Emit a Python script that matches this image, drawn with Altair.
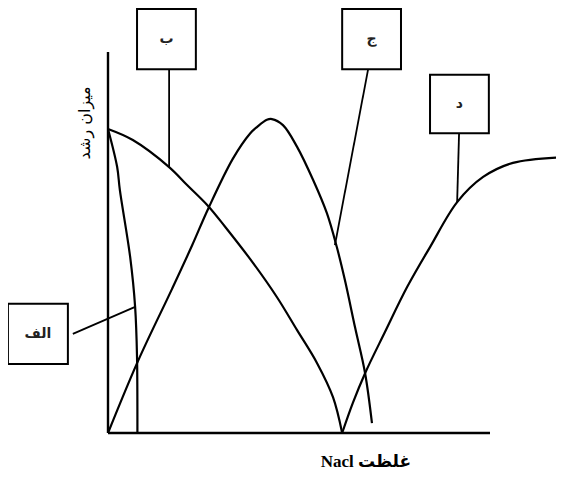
import altair as alt
import pandas as pd

# Curves (x: NaCl concentration, y: growth), arbitrary units
alef_x = [0, 2.4, 3.1, 5.8, 7.1, 7.6, 7.7]
alef_y = [79.8, 69.8, 63.8, 46.2, 33.1, 19.9, 0]

be_x = [0, 6.5, 16.0, 20.7, 26.2, 30.6, 38.0, 44.2, 49.5, 54.7, 58.9, 61.3]
be_y = [79.8, 76.9, 69.8, 65.1, 59.6, 54.2, 44.6, 35.7, 27.0, 18.4, 9.4, 0]

jim_x = [0, 7.9, 16.8, 22.0, 26.2, 32.7, 37.2, 39.0, 41.6, 42.9, 45.8, 49.5, 53.7, 57.3, 59.9, 62.0, 64.7, 67.3, 69.1]
jim_y = [0, 19.0, 37.9, 49.2, 58.8, 72.0, 78.6, 80.3, 82.2, 82.4, 80.8, 75.1, 66.4, 57.7, 48.8, 40.2, 27.6, 15.7, 2.6]

dal_x = [61.3, 64.1, 67.3, 72.5, 78.3, 84.3, 91.4, 98.2, 106.0, 119.4]
dal_y = [0, 7.9, 15.7, 26.5, 38.3, 48.8, 60.6, 67.2, 70.9, 72.4]

# Label boxes (data units): name, box corners, leader from -> to
box_names = ["الف", "ب", "ج", "د"]
box_x1 = [-26.2, 7.6, 61.3, 84.3]
box_x2 = [-10.5, 23.0, 76.7, 99.7]
box_y1 = [18.1, 95.5, 95.5, 78.7]
box_y2 = [33.9, 111.3, 111.3, 94.0]
lead_x1 = [-9.2, 16.0, 68.1, 91.9]
lead_y1 = [26.0, 95.5, 95.5, 78.7]
lead_x2 = [7.1, 16.0, 59.4, 91.4]
lead_y2 = [33.1, 69.8, 49.3, 60.6]

x_title = "Nacl غلظت"
y_title = "میزان رشد"

rows = []
for name, xs_, ys_ in [("الف", alef_x, alef_y), ("ب", be_x, be_y), ("ج", jim_x, jim_y), ("د", dal_x, dal_y)]:
    for i, (a, b) in enumerate(zip(xs_, ys_)):
        rows.append({"series": name, "x": a, "y": b, "i": i})
curves = pd.DataFrame(rows)

boxes = pd.DataFrame({
    "name": box_names, "x1": box_x1, "x2": box_x2, "y1": box_y1, "y2": box_y2,
    "lx1": lead_x1, "ly1": lead_y1, "lx2": lead_x2, "ly2": lead_y2,
})
boxes["cx"] = (boxes.x1 + boxes.x2) / 2
boxes["cy"] = (boxes.y1 + boxes.y2) / 2

axes_df = pd.DataFrame({"x": [0, 0], "y": [0, 0], "x2": [100, 0], "y2": [0, 100]})
titles_df = pd.DataFrame({"t": [x_title, y_title], "x": [67.5, -6.0], "y": [-7.6, 81.4]})

xs = alt.Scale(domain=[0, 100], range=[100, 482], nice=False, zero=False)
ys = alt.Scale(domain=[0, 100], range=[425, 44], nice=False, zero=False)
X = lambda f: alt.X(f, type="quantitative", scale=xs, axis=None)
Y = lambda f: alt.Y(f, type="quantitative", scale=ys, axis=None)

lines = alt.Chart(curves).mark_line(color="black", strokeWidth=2.2, interpolate="catmull-rom").encode(
    x=X("x"), y=Y("y"), detail="series:N", order="i:Q")

axes = alt.Chart(axes_df).mark_rule(color="black", strokeWidth=2.4).encode(
    x=X("x"), y=Y("y"), x2="x2", y2="y2")

leaders = alt.Chart(boxes).mark_rule(color="black", strokeWidth=1.8).encode(
    x=X("lx1"), y=Y("ly1"), x2="lx2", y2="ly2")

rects = alt.Chart(boxes).mark_rect(fill="white", stroke="black", strokeWidth=2).encode(
    x=X("x1"), x2="x2", y=Y("y1"), y2="y2")

labels = alt.Chart(boxes).mark_text(font="DejaVu Sans", fontSize=14, fontWeight="bold", color="#222").encode(
    x=X("cx"), y=Y("cy"), text="name:N")

xt = alt.Chart(titles_df.iloc[[0]]).mark_text(font="Liberation Serif, DejaVu Sans", fontSize=17, fontWeight="bold", color="black").encode(
    x=X("x"), y=Y("y"), text="t:N")
yt = alt.Chart(titles_df.iloc[[1]]).mark_text(font="DejaVu Sans", fontSize=16, angle=270, color="black").encode(
    x=X("x"), y=Y("y"), text="t:N")

chart = alt.layer(axes, lines, leaders, rects, labels, xt, yt).properties(
    width=548, height=464, autosize=alt.AutoSizeParams(type="none"), padding=0
).configure_view(stroke=None)

chart.save("out.html", embed_options={"renderer": "svg", "actions": False})
